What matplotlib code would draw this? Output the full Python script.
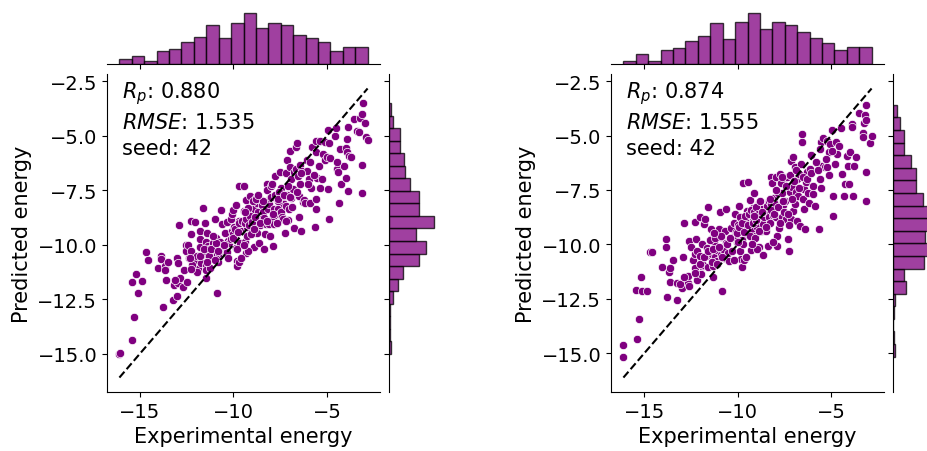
import numpy as np
import matplotlib
matplotlib.use("Agg")
import matplotlib.pyplot as plt

# values (same test split, two models)
exp_1 = [-16.09, -15.41, -15.29, -15.43, -15.2, -14.89, -15.1, -14.66, -14.57, -14.02, -13.86, -13.86, -13.68, -13.63, -13.47, -13.77, -13.61, -13.24, -13.2, -13.0,
         -12.97, -12.83, -12.68, -12.99, -12.96, -12.9, -12.65, -12.56, -12.54, -12.4, -12.42, -12.27, -12.25, -12.25, -12.06, -12.0, -11.93, -11.88, -11.93, -12.22,
         -12.27, -11.77, -11.79, -11.77, -11.72, -11.61, -11.52, -11.49, -11.58, -11.45, -11.42, -11.38, -11.45, -11.49, -11.33, -11.27, -11.24, -11.31, -11.15, -11.1,
         -11.02, -10.97, -10.95, -10.9, -10.86, -10.81, -10.78, -10.7, -10.65, -10.61, -10.6, -10.53, -10.47, -10.42, -10.33, -10.33, -10.29, -10.22, -10.15, -10.1,
         -10.12, -10.08, -10.01, -9.97, -9.96, -9.92, -9.89, -9.85, -9.81, -9.79, -9.72, -9.71, -9.71, -9.67, -9.6, -9.46, -9.44, -9.4, -9.35, -9.3,
         -9.31, -9.26, -9.19, -9.12, -9.06, -9.03, -8.97, -8.92, -8.89, -8.85, -8.78, -8.74, -8.73, -8.67, -8.62, -8.58, -8.57, -8.53, -8.49, -8.42,
         -8.39, -8.37, -8.32, -8.28, -8.23, -8.21, -8.16, -8.1, -8.08, -8.03, -7.98, -7.94, -7.91, -7.89, -7.85, -7.82, -7.76, -7.71, -7.69, -7.62,
         -7.58, -7.53, -7.51, -7.47, -7.44, -7.41, -7.37, -7.35, -7.32, -7.25, -7.21, -7.17, -7.14, -7.12, -7.07, -7.03, -6.99, -6.99, -6.94, -6.91,
         -6.85, -6.82, -6.78, -6.75, -6.68, -6.64, -6.6, -6.57, -6.52, -6.5, -6.46, -6.43, -6.39, -6.36, -6.28, -6.23, -6.16, -6.07, -6.05, -5.98,
         -5.91, -5.84, -5.8, -5.66, -5.62, -5.61, -5.57, -5.54, -5.46, -5.4, -5.36, -5.3, -5.21, -5.12, -5.1, -5.03, -4.97, -4.93, -4.9, -4.9,
         -4.87, -4.56, -4.51, -4.46, -4.42, -4.35, -4.34, -4.27, -4.11, -4.02, -3.98, -3.96, -3.95, -3.89, -3.9, -3.81, -3.54, -3.43, -3.32, -3.25,
         -3.16, -3.16, -3.15, -3.11, -2.91, -2.84]
pred_1 = [-15.0, -14.36, -13.33, -11.71, -11.34, -11.65, -12.2, -10.33, -10.7, -11.06, -10.5, -10.66, -10.99, -11.17, -10.79, -12.84, -11.63, -12.52, -11.83, -12.35,
          -11.75, -11.52, -11.95, -10.63, -10.86, -9.11, -11.14, -10.03, -10.27, -10.6, -10.03, -10.27, -8.9, -9.53, -8.96, -10.68, -10.5, -11.12, -11.24, -10.91,
          -11.11, -9.35, -9.76, -10.11, -10.86, -8.32, -8.99, -9.89, -10.44, -10.91, -9.48, -10.07, -11.52, -11.16, -10.31, -10.63, -11.06, -10.21, -10.6, -9.91,
          -10.14, -8.81, -9.68, -10.41, -12.23, -10.79, -10.54, -9.89, -8.41, -10.39, -9.04, -10.07, -9.48, -10.44, -8.96, -10.34, -9.84, -9.91, -8.82, -9.38,
          -9.76, -8.58, -8.43, -9.19, -9.45, -9.76, -10.14, -8.16, -10.76, -10.99, -10.79, -7.33, -8.93, -9.91, -9.35, -7.33, -8.46, -9.86, -7.93, -8.41,
          -10.37, -9.18, -8.79, -7.77, -8.96, -9.41, -8.74, -8.38, -10.1, -9.02, -7.85, -8.11, -9.48, -8.49, -9.92, -9.1, -8.82, -7.93, -8.19, -8.5,
          -10.22, -8.76, -9.51, -9.07, -7.23, -7.51, -8.38, -8.15, -9.07, -7.85, -7.3, -7.23, -8.73, -10.05, -9.07, -8.38, -6.84, -7.85, -9.02, -8.38,
          -8.61, -6.69, -7.93, -8.5, -7.39, -8.73, -8.11, -8.81, -7.77, -9.48, -8.22, -6.71, -7.7, -6.11, -8.87, -8.38, -6.43, -5.69, -6.97, -7.85,
          -8.28, -7.46, -6.69, -9.22, -6.54, -5.53, -5.35, -6.84, -8.73, -7.77, -6.34, -7.22, -9.37, -6.61, -8.04, -7.93, -8.11, -6.61, -6.11, -7.0,
          -8.11, -7.39, -5.53, -9.18, -5.76, -5.23, -8.35, -6.95, -6.38, -5.23, -7.39, -7.0, -5.86, -5.28, -6.11, -6.0, -4.74, -7.46, -8.81, -5.35,
          -6.04, -5.03, -4.66, -6.54, -6.65, -8.07, -5.61, -7.23, -6.38, -5.58, -6.95, -5.15, -5.73, -7.53, -4.62, -5.94, -4.25, -4.77, -4.85, -4.2,
          -4.0, -6.35, -7.61, -3.51, -5.05, -5.2]
# points hidden under others in the dense centre (estimated from the marginal histograms)
exp_1_hidden = [-16.05, -13.1, -12.5, -12.3, -11.8, -11.6, -11.3, -11.2, -11.0, -10.95, -11.4, -10.85, -11.1, -10.5, -10.0, -9.9,
                -9.8, -9.7, -9.6, -10.05, -9.55, -9.75, -9.4, -9.35, -9.3, -9.2, -9.15, -9.1, -9.05, -9.0, -8.95, -8.9,
                -8.85, -9.25, -9.45, -8.82, -9.38, -8.6, -8.4, -8.2, -8.0, -7.9, -7.8, -7.7, -7.6, -7.55, -8.05, -7.65,
                -7.3, -7.0, -7.2, -6.6, -6.4, -6.0, -5.9, -5.7, -5.6, -4.5, -3.7, -3.0, -10.3, -8.7, -7.1]
pred_1_hidden = [-14.95, -11.6, -11.7, -10.6, -10.5, -10.2, -10.5, -10.2, -10.7, -9.9, -10.8, -10.3, -9.6, -10.0, -9.5, -9.3,
                 -10.2, -9.0, -10.6, -9.7, -8.9, -9.4, -9.0, -8.8, -9.6, -8.3, -9.1, -8.7, -9.5, -8.95, -8.0, -9.3,
                 -8.75, -10.3, -10.0, -7.9, -8.5, -9.0, -8.0, -8.9, -7.8, -8.6, -7.7, -9.0, -8.0, -7.6, -9.6, -7.9,
                 -7.7, -7.8, -8.9, -7.6, -6.7, -7.2, -6.2, -6.8, -7.9, -6.2, -6.0, -4.4, -10.6, -7.7, -7.3]

exp_2 = [-16.12, -16.12, -15.41, -15.29, -15.42, -15.2, -15.11, -14.88, -14.7, -14.59, -14.04, -13.86, -13.86, -13.77, -13.68, -13.63, -13.61, -13.48, -13.24, -13.24,
         -13.0, -13.0, -12.95, -12.9, -12.81, -12.68, -12.65, -12.59, -12.52, -12.42, -12.31, -12.31, -12.27, -12.24, -12.2, -12.17, -12.04, -12.02, -11.99, -11.93,
         -11.92, -11.86, -11.79, -11.77, -11.7, -11.65, -11.61, -11.58, -11.45, -11.43, -11.4, -11.35, -11.31, -11.26, -11.2, -11.13, -11.1, -11.01, -10.95, -10.92,
         -10.9, -10.85, -10.81, -10.74, -10.69, -10.65, -10.63, -10.51, -10.45, -10.35, -10.31, -10.28, -10.19, -10.15, -10.1, -10.06, -10.03, -9.97, -9.92, -9.88,
         -9.85, -9.78, -9.74, -9.71, -9.67, -9.63, -9.58, -9.53, -9.44, -9.42, -9.35, -9.31, -9.26, -9.21, -9.17, -9.12, -9.08, -9.06, -8.99, -8.94,
         -8.89, -8.87, -8.81, -8.78, -8.73, -8.67, -8.64, -8.6, -8.53, -8.49, -8.46, -8.37, -8.33, -8.32, -8.28, -8.21, -8.21, -8.16, -8.14, -8.08,
         -8.03, -7.98, -7.96, -7.91, -7.87, -7.82, -7.75, -7.71, -7.66, -7.64, -7.6, -7.57, -7.48, -7.42, -7.37, -7.34, -7.28, -7.21, -7.17, -7.14,
         -7.11, -7.07, -7.03, -6.96, -6.93, -6.89, -6.85, -6.82, -6.76, -6.71, -6.68, -6.6, -6.57, -6.57, -6.52, -6.48, -6.44, -6.41, -6.37, -6.32,
         -6.23, -6.18, -6.11, -6.07, -5.96, -5.87, -5.78, -5.66, -5.61, -5.57, -5.52, -5.43, -5.34, -5.25, -5.2, -5.11, -5.04, -4.95, -4.89, -4.89,
         -4.8, -4.75, -4.68, -4.57, -4.47, -4.4, -4.32, -4.27, -4.14, -4.09, -4.04, -4.0, -3.91, -3.88, -3.84, -3.79, -3.52, -3.29, -3.29, -3.25,
         -3.2, -3.16, -3.13, -3.15, -3.16, -2.91, -2.84]
pred_2 = [-14.62, -15.16, -14.33, -13.41, -12.11, -11.49, -12.14, -12.14, -10.37, -10.36, -11.03, -9.74, -10.1, -12.44, -11.29, -11.09, -11.74, -10.7, -12.55, -11.77,
          -11.77, -12.01, -10.6, -9.04, -11.52, -11.77, -11.45, -9.84, -10.1, -10.73, -11.09, -10.45, -8.99, -9.76, -11.65, -10.3, -8.73, -10.54, -11.34, -11.0,
          -9.99, -10.94, -9.08, -8.84, -10.54, -10.15, -8.27, -11.06, -9.3, -9.76, -10.45, -11.48, -10.99, -9.91, -10.57, -10.76, -10.27, -9.28, -8.5, -10.48,
          -9.68, -12.14, -10.22, -10.63, -9.37, -8.38, -9.96, -10.4, -10.76, -9.25, -10.3, -9.68, -9.01, -8.61, -9.45, -9.91, -9.76, -9.13, -8.22, -8.76,
          -10.68, -11.03, -9.3, -7.18, -10.73, -9.53, -8.99, -8.49, -7.15, -8.61, -7.95, -10.27, -9.34, -8.91, -8.33, -7.63, -9.61, -8.73, -9.22, -8.49,
          -8.1, -10.1, -8.69, -9.37, -8.38, -9.07, -10.48, -8.73, -8.5, -9.37, -8.22, -10.07, -8.76, -8.02, -9.04, -8.15, -6.89, -7.2, -8.64, -7.87,
          -8.15, -6.92, -8.76, -10.07, -7.66, -9.27, -6.75, -8.19, -7.66, -8.73, -7.1, -8.19, -8.02, -8.84, -6.92, -9.76, -10.3, -7.61, -6.18, -8.84,
          -7.38, -8.45, -6.0, -6.46, -8.15, -7.61, -8.91, -7.0, -7.78, -6.77, -9.15, -6.31, -4.92, -5.31, -7.93, -7.46, -8.38, -9.3, -7.15, -6.69,
          -7.66, -8.12, -6.54, -5.88, -7.69, -8.22, -6.28, -9.3, -7.0, -5.31, -6.38, -5.12, -6.46, -5.23, -6.46, -5.77, -5.39, -4.74, -7.76, -8.69,
          -6.31, -5.31, -5.85, -5.46, -4.65, -6.77, -7.76, -7.23, -5.95, -6.38, -7.23, -5.74, -4.46, -4.59, -7.76, -6.38, -3.97, -4.88, -5.08, -4.43,
          -4.08, -4.31, -3.59, -6.66, -8.02, -5.35, -5.02]
exp_2_hidden = [-13.1, -12.9, -12.6, -12.3, -12.0, -11.8, -11.6, -11.5, -11.4, -11.3, -11.2, -11.1, -11.0, -10.9, -10.85, -11.25,
                -10.6, -10.4, -10.2, -10.05, -9.95, -9.9, -9.8, -9.75, -9.7, -9.65, -9.6, -9.55, -10.0, -9.45, -9.4, -9.35,
                -9.3, -9.2, -9.15, -9.1, -9.05, -9.0, -8.95, -8.9, -8.85, -9.25, -8.82, -9.12, -8.7, -8.5, -8.3, -8.2,
                -8.05, -7.95, -7.85, -7.75, -7.7, -7.6, -7.55, -7.9, -7.65, -8.1, -7.4, -7.3, -7.2, -7.1, -7.0, -6.9,
                -7.25, -6.7, -6.5, -6.3, -6.1, -5.95, -5.8, -5.7, -5.6, -5.55, -5.3, -5.1, -4.95, -3.7]
pred_2_hidden = [-11.8, -11.5, -11.9, -11.3, -10.9, -10.6, -10.3, -9.8, -10.8, -10.2, -9.7, -10.9, -10.1, -9.6, -10.6, -9.5,
                 -10.0, -9.7, -10.7, -9.5, -9.2, -10.3, -9.8, -9.0, -10.0, -9.45, -8.7, -10.6, -9.9, -9.1, -8.6, -9.6,
                 -8.4, -9.0, -8.5, -9.7, -8.3, -8.9, -10.2, -8.6, -9.4, -10.0, -8.0, -8.7, -8.5, -9.2, -7.9, -8.4,
                 -8.6, -7.5, -8.3, -9.0, -7.2, -8.0, -8.5, -9.6, -6.9, -9.9, -7.3, -8.6, -6.8, -7.9, -7.1, -6.6,
                 -9.1, -7.4, -6.9, -7.0, -6.7, -7.3, -6.2, -6.6, -5.6, -7.4, -6.1, -6.8, -5.7, -6.0]

rp_vals = [0.880, 0.874]
rmse_vals = [1.535, 1.555]
seed = 42

fig = plt.figure(figsize=(9.28, 4.52), dpi=100)

panels = [(exp_1 + exp_1_hidden, pred_1 + pred_1_hidden),
          (exp_2 + exp_2_hidden, pred_2 + pred_2_hidden)]
for k, (ex, pr) in enumerate(panels):
    ex = np.array(ex)
    pr = np.array(pr)
    off = k * 504 / 928
    ax = fig.add_axes([0.1153 + off, 0.1305, 0.2942, 0.7035])
    axx = fig.add_axes([0.1153 + off, 0.8555, 0.2942, 0.12], sharex=ax)
    axy = fig.add_axes([0.4192 + off, 0.1305, 0.0513, 0.7035], sharey=ax)

    ax.scatter(ex, pr, s=36, color="purple", edgecolors="white", linewidths=0.5, zorder=2)
    lo = min(ex.min(), pr.min())
    hi = max(ex.max(), pr.max())
    ax.plot([lo, hi], [lo, hi], "k--", lw=1.5, zorder=3)

    axx.hist(ex, bins=20, color="purple", alpha=0.75, edgecolor="black", linewidth=1)
    axy.hist(pr, bins=20, color="purple", alpha=0.75, edgecolor="black", linewidth=1,
             orientation="horizontal")

    ax.set_xlabel("Experimental energy", fontsize=15)
    ax.set_ylabel("Predicted energy", fontsize=15)
    ax.tick_params(labelsize=14)
    ax.set_yticks([-15, -12.5, -10, -7.5, -5, -2.5])
    ax.set_xticks([-15, -10, -5])
    for s in ["top", "right"]:
        ax.spines[s].set_visible(False)

    for s in ["top", "right", "left"]:
        axx.spines[s].set_visible(False)
    axx.tick_params(labelbottom=False, left=False, labelleft=False)
    for s in ["top", "right", "bottom"]:
        axy.spines[s].set_visible(False)
    axy.tick_params(labelleft=False, bottom=False, labelbottom=False)

    txt = "$R_p$: %.3f\n$RMSE$: %.3f\nseed: %d" % (rp_vals[k], rmse_vals[k], seed)
    ax.text(0.055, 0.985, txt, transform=ax.transAxes, va="top", ha="left",
            fontsize=15, linespacing=1.4)

fig.savefig("out.png", dpi=100)
